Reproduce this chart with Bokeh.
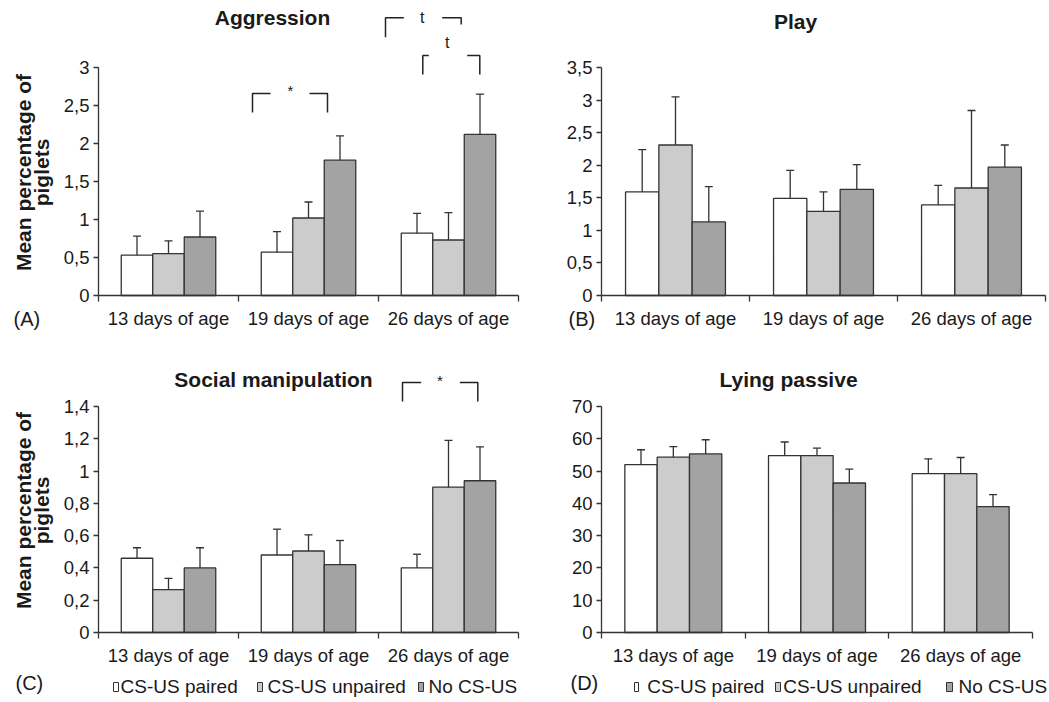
import math
from bokeh.plotting import figure
from bokeh.models import (Range1d, FixedTicker, CustomJSTickFormatter, Whisker, TeeHead,
                          ColumnDataSource, Label, BoxAnnotation)
from bokeh.layouts import row, column
from bokeh.embed import file_html
from bokeh.resources import INLINE

# ---------------- data ----------------
ages = ["13 days of age", "19 days of age", "26 days of age"]
groups = ["CS-US paired", "CS-US unpaired", "No CS-US"]

aggr_paired = [0.53, 0.57, 0.82]
aggr_paired_se = [0.25, 0.27, 0.26]
aggr_unpaired = [0.55, 1.02, 0.73]
aggr_unpaired_se = [0.17, 0.21, 0.36]
aggr_none = [0.77, 1.78, 2.12]
aggr_none_se = [0.34, 0.32, 0.53]

play_paired = [1.59, 1.49, 1.39]
play_paired_se = [0.65, 0.43, 0.30]
play_unpaired = [2.31, 1.29, 1.65]
play_unpaired_se = [0.74, 0.30, 1.19]
play_none = [1.13, 1.63, 1.97]
play_none_se = [0.54, 0.38, 0.34]

soc_paired = [0.46, 0.48, 0.40]
soc_paired_se = [0.065, 0.16, 0.085]
soc_unpaired = [0.265, 0.505, 0.90]
soc_unpaired_se = [0.07, 0.10, 0.29]
soc_none = [0.40, 0.42, 0.94]
soc_none_se = [0.125, 0.15, 0.21]

lying_paired = [52.0, 54.8, 49.2]
lying_paired_se = [4.6, 4.2, 4.6]
lying_unpaired = [54.3, 54.8, 49.2]
lying_unpaired_se = [3.3, 2.3, 5.0]
lying_none = [55.3, 46.3, 39.0]
lying_none_se = [4.4, 4.3, 3.7]

yticks_aggr = [0, 0.5, 1, 1.5, 2, 2.5, 3]
yticks_play = [0, 0.5, 1, 1.5, 2, 2.5, 3, 3.5]
yticks_soc = [0, 0.2, 0.4, 0.6, 0.8, 1.0, 1.2, 1.4]
yticks_lying = [0, 10, 20, 30, 40, 50, 60, 70]

# ---------------- style ----------------
FONT = "Liberation Sans"
TXT = "#1a1a1a"
LINE = "#333333"
FILLS = ["#ffffff", "#cccccc", "#a3a3a3"]
BAR_W = 0.225


def make_panel(title, letter, series, ses, yticks, geo, ylabel=False,
               brackets=(), legend=None):
    W, H, ox, oy = geo["W"], geo["H"], geo["ox"], geo["oy"]
    fl, fr, fb, ytop = geo["fl"], geo["fr"], geo["fb"], geo["ytop"]
    ymax = yticks[-1]
    pyu = (fb - ytop) / ymax
    pxu = (fr - fl) / 3.0

    def U(X):
        return (X - fl) / pxu

    def V(Y):
        return (fb - Y) / pyu

    p = figure(width=W, height=H, output_backend="svg", toolbar_location=None,
               x_range=Range1d(U(ox), U(ox + W)), y_range=Range1d(V(oy + H), V(oy)),
               min_border_left=0, min_border_right=0,
               min_border_top=0, min_border_bottom=0)
    p.outline_line_color = None
    p.xgrid.visible = False
    p.ygrid.visible = False
    p.background_fill_color = "white"
    p.border_fill_color = "white"

    for k in range(3):
        xs = [i + 0.5 + (k - 1) * BAR_W for i in range(3)]
        src = ColumnDataSource(dict(x=xs, top=series[k],
                                    upper=[m + s for m, s in zip(series[k], ses[k])]))
        p.vbar(x="x", top="top", bottom=0, width=BAR_W, source=src,
               fill_color=FILLS[k], line_color=LINE, line_width=1.3)
        w = Whisker(source=src, base="x", lower="top", upper="upper",
                    line_color=LINE, line_width=1.3, lower_head=None,
                    upper_head=TeeHead(size=8, line_color=LINE, line_width=1.3),
                    level="annotation")
        p.add_layout(w)

    # x axis
    xa = p.xaxis[0]
    xa.fixed_location = 0
    xa.bounds = (0, 3)
    xa.ticker = FixedTicker(ticks=[0.5, 1.5, 2.5], minor_ticks=[0, 1, 2, 3])
    xa.formatter = CustomJSTickFormatter(args=dict(labels=ages),
                                         code="return labels[Math.floor(tick)]")
    xa.major_tick_out = 0
    xa.major_tick_in = 0
    xa.minor_tick_out = 6
    xa.minor_tick_in = 0
    xa.minor_tick_line_color = LINE
    xa.minor_tick_line_width = 1.3
    xa.axis_line_color = LINE
    xa.axis_line_width = 1.3
    xa.major_label_text_font = FONT
    xa.major_label_text_font_size = "18.5px"
    xa.major_label_text_color = TXT
    xa.major_label_standoff = 6

    # y axis
    ya = p.yaxis[0]
    ya.fixed_location = 0
    ya.ticker = FixedTicker(ticks=yticks)
    ya.formatter = CustomJSTickFormatter(code="return String(tick).replace('.', ',')")
    ya.bounds = (0, ymax)
    ya.major_tick_out = 5
    ya.major_tick_in = 0
    ya.minor_tick_out = 0
    ya.minor_tick_in = 0
    ya.major_tick_line_color = LINE
    ya.major_tick_line_width = 1.3
    ya.axis_line_color = LINE
    ya.axis_line_width = 1.3
    ya.major_label_text_font = FONT
    ya.major_label_text_font_size = "18.5px"
    ya.major_label_text_color = TXT
    ya.major_label_standoff = 4

    def lab(x, y, text, size, bold=False, align="center", angle=0.0):
        p.add_layout(Label(x=U(x), y=V(y), text=text, text_align=align,
                           text_baseline="middle", text_font=FONT, angle=angle,
                           text_font_size=size, text_color=TXT,
                           text_font_style="bold" if bold else "normal"))

    # title and panel letter (page px of visual centre)
    tx, ty = geo["title"]
    lab(tx, ty, title, "21px", bold=True)
    lx, ly = geo["letter"]
    lab(lx, ly, letter, "20px", align="left")
    # y label
    if ylabel:
        cy = geo["ylab_cy"]
        lab(22.5, cy, "Mean percentage of", "21px", bold=True, angle=math.pi / 2)
        lab(41.0, cy, "piglets", "21px", bold=True, angle=math.pi / 2)
    # significance brackets (page px)
    for br in brackets:
        xl, segl, segr, xr, top, botl, botr, text, labx, laby, fs = br
        p.multi_line(xs=[[U(xl), U(xl), U(segl)], [U(segr), U(xr), U(xr)]],
                     ys=[[V(botl), V(top), V(top)], [V(top), V(top), V(botr)]],
                     line_color="#222222", line_width=1.5)
        lab(labx, laby, text, fs)
    # legend
    if legend is not None:
        sq, txs, ytop_l, ybot_l, ytxt = legend
        for k in range(3):
            a, b = sq[k]
            p.add_layout(BoxAnnotation(left=U(a), right=U(b), top=V(ytop_l), bottom=V(ybot_l),
                                       fill_color=FILLS[k], fill_alpha=1.0,
                                       line_color=LINE, line_alpha=1.0, line_width=1,
                                       level="annotation"))
            lab(txs[k], ytxt, groups[k], "19px", align="left")
    return p


geoA = dict(W=525, H=340, ox=0, oy=0, fl=98, fr=518, fb=295, ytop=67,
            title=(272, 17), letter=(13, 318.5), ylab_cy=172)
geoB = dict(W=523, H=340, ox=525, oy=0, fl=601, fr=1045, fb=295, ytop=67,
            title=(795, 21), letter=(568, 318.5))
geoC = dict(W=525, H=361, ox=0, oy=340, fl=98, fr=518, fb=632, ytop=406,
            title=(273, 379), letter=(15, 682), ylab_cy=510)
geoD = dict(W=523, H=361, ox=525, oy=340, fl=601, fr=1032, fb=632, ytop=406,
            title=(788, 379), letter=(570, 682))

bracketsA = [
    (252, 270, 309, 327, 93, 112, 112, "*", 290, 90, "15px"),
    (385, 403.3, 441.7, 460.7, 17.3, 36.7, 24, "t", 421.7, 17.2, "16px"),
    (422.3, 428.3, 466.7, 479.3, 55, 74, 74, "t", 446.7, 41.7, "16px"),
]
bracketsC = [
    (402, 420.7, 459.3, 477.3, 382, 401, 401, "*", 439.3, 380, "15px"),
]
legendC = ([(113, 118), (257, 262), (418, 423)], [120, 267, 428], 682, 691, 686)
legendD = ([(634, 638), (775, 780), (946, 952)], [646.7, 782.7, 958], 682, 691, 686)

pA = make_panel("Aggression", "(A)",
                [aggr_paired, aggr_unpaired, aggr_none],
                [aggr_paired_se, aggr_unpaired_se, aggr_none_se],
                yticks_aggr, geoA, ylabel=True, brackets=bracketsA)
pB = make_panel("Play", "(B)",
                [play_paired, play_unpaired, play_none],
                [play_paired_se, play_unpaired_se, play_none_se],
                yticks_play, geoB)
pC = make_panel("Social manipulation", "(C)",
                [soc_paired, soc_unpaired, soc_none],
                [soc_paired_se, soc_unpaired_se, soc_none_se],
                yticks_soc, geoC, ylabel=True, brackets=bracketsC, legend=legendC)
pD = make_panel("Lying passive", "(D)",
                [lying_paired, lying_unpaired, lying_none],
                [lying_paired_se, lying_unpaired_se, lying_none_se],
                yticks_lying, geoD, legend=legendD)

layout = column(row(pA, pB), row(pC, pD))
open("out.html", "w").write(file_html(layout, INLINE))
